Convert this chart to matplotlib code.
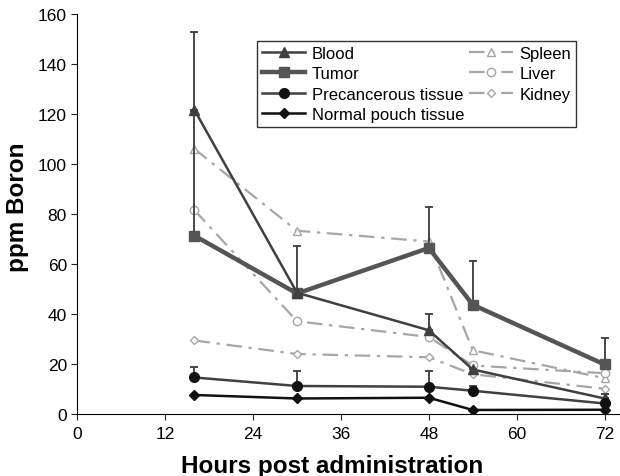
import matplotlib
matplotlib.use("Agg")
import matplotlib.pyplot as plt
import numpy as np

plt.rcParams['font.family'] = ['Liberation Sans', 'DejaVu Sans']

hours = [16, 30, 48, 54, 72]
blood = [121.6, 48.5, 33.5, 17.8, 6.2]
blood_err = [31.3, 0, 6.3, 0, 1.6]
tumor = [71.3, 48.2, 66.4, 43.7, 19.8]
tumor_err = [50.0, 19.1, 16.2, 17.3, 10.7]
precancer = [14.6, 11.2, 10.9, 9.3, 4.2]
precancer_err = [4.2, 6.1, 6.1, 1.8, 1.0]
normal = [7.6, 6.2, 6.5, 1.6, 1.7]
spleen = [106.0, 73.3, 69.0, 25.5, 14.3]
liver = [81.5, 37.1, 30.8, 19.4, 16.3]
kidney = [29.4, 24.0, 22.7, 15.9, 10.1]

xticks = [0, 12, 24, 36, 48, 60, 72]
yticks = [0, 20, 40, 60, 80, 100, 120, 140, 160]

fig = plt.figure(figsize=(6.2, 4.77), dpi=100)
ax = fig.add_axes([0.1247, 0.13, 0.874, 0.8386])

light = '#a6a6a6'
dash = (0, (7, 3, 1.5, 3))
lh = []
for vals, mk, ms, lab in [(spleen, '^', 5.5, 'Spleen'), (liver, 'o', 6, 'Liver'), (kidney, 'D', 4.2, 'Kidney')]:
    l, = ax.plot(hours, vals, color=light, lw=1.6, linestyle=dash, marker=mk, ms=ms,
                 mfc='white', mec=light, mew=1.0, label=lab, zorder=2)
    lh.append(l)

err_c = '#3a3a3a'
for vals, err in [(blood, blood_err), (tumor, tumor_err), (precancer, precancer_err)]:
    ax.errorbar(hours, vals, yerr=[np.zeros(len(err)), err], fmt='none', ecolor=err_c,
                elinewidth=1.3, capsize=3, capthick=1.3, zorder=3)

dh = []
l, = ax.plot(hours, tumor, color='#555555', lw=3.2, marker='s', ms=7, label='Tumor', zorder=4)
dh.append(l)
l, = ax.plot(hours, blood, color='#404040', lw=1.8, marker='^', ms=7, label='Blood', zorder=5)
dh.insert(0, l)
l, = ax.plot(hours, precancer, color='#404040', lw=1.8, marker='o', ms=7, mfc='#111111', mec='#111111', label='Precancerous tissue', zorder=5)
dh.append(l)
l, = ax.plot(hours, normal, color='#111111', lw=1.8, marker='D', ms=5, label='Normal pouch tissue', zorder=5)
dh.append(l)

ax.set_xlim(0, 74)
ax.set_ylim(0, 160)
ax.set_xticks(xticks)
ax.set_yticks(yticks)
ax.spines['top'].set_visible(False)
ax.spines['right'].set_visible(False)
ax.tick_params(direction='out', length=4, labelsize=12.5, color='#222222')
ax.tick_params(axis='x', pad=5)
ax.set_xlabel('Hours post administration', fontsize=17.5, fontweight='bold')
ax.set_ylabel('ppm Boron', fontsize=17.5, fontweight='bold')
ax.xaxis.set_label_coords(0.47, -0.1)
ax.yaxis.set_label_coords(-0.09, 0.52)

leg = fig.legend(dh + lh, [h.get_label() for h in dh + lh], ncol=2, loc='upper left',
                 bbox_to_anchor=(0.4145, 0.912), fontsize=12, frameon=True, fancybox=False,
                 edgecolor='black', handlelength=2.6, handletextpad=0.4, columnspacing=0.3,
                 labelspacing=0.32, borderpad=0.3, borderaxespad=0)
leg.get_frame().set_linewidth(1.0)

fig.savefig('out.png', dpi=100)
